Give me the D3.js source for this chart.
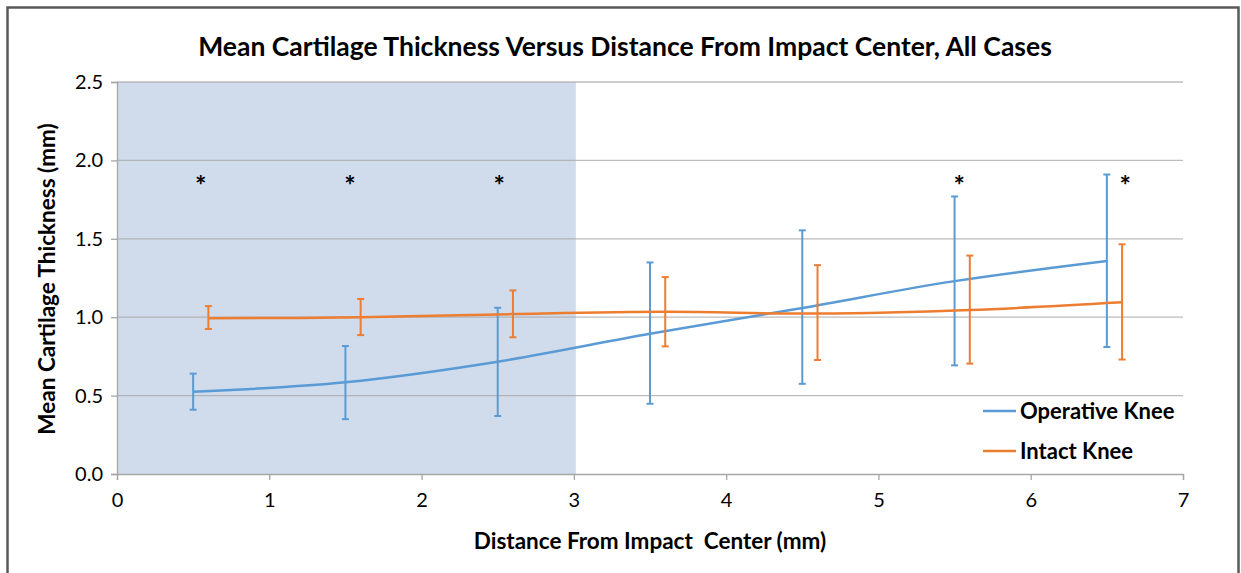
<!DOCTYPE html>
<html>
<head>
<meta charset="utf-8">
<script src="https://cdn.jsdelivr.net/npm/d3@7"></script>
<style>
  body { margin: 0; background: #fff; }
  text { font-family: Lato, "Open Sans", sans-serif; fill: #000; }
</style>
</head>
<body>
<div id="chart"></div>
<script>
// data
var opX = [0.5, 1.5, 2.5, 3.5, 4.5, 5.5, 6.5];
var opMean = [0.525, 0.585, 0.716, 0.894, 1.059, 1.23, 1.359];
var opHigh = [0.64, 0.816, 1.06, 1.349, 1.554, 1.77, 1.91];
var opLow = [0.41, 0.35, 0.37, 0.448, 0.575, 0.693, 0.81];

var inX = [0.6, 1.6, 2.6, 3.6, 4.6, 5.6, 6.6];
var inMean = [0.993, 0.999, 1.02, 1.034, 1.023, 1.046, 1.095];
var inHigh = [1.071, 1.116, 1.171, 1.256, 1.332, 1.393, 1.465];
var inLow = [0.925, 0.886, 0.872, 0.814, 0.727, 0.704, 0.73];

var starX = [0.55, 1.53, 2.51, 5.53, 6.62];
var starY = 1.88;
var shadeRange = [0, 3];

var xTicks = [0, 1, 2, 3, 4, 5, 6, 7];
var yTicks = [0, 0.5, 1, 1.5, 2, 2.5];

var blue = "#5B9BD5", orange = "#ED7D31";

var W = 1241, H = 573;
var margin = {top: 82, right: 58, bottom: 99, left: 117};
var width = W - margin.left - margin.right;
var height = H - margin.top - margin.bottom;

var svg = d3.select("#chart").append("svg")
    .attr("width", W)
    .attr("height", H);

// outer frame
svg.append("rect")
  .attr("x", 7.5).attr("y", 7.5)
  .attr("width", 1231).attr("height", 580)
  .attr("fill", "none")
  .attr("stroke", "#595959")
  .attr("stroke-width", 2.5);

var x = d3.scaleLinear().domain([0, 7]).range([0, width]);
var y = d3.scaleLinear().domain([0, 2.5]).range([height, 0]);

var g = svg.append("g")
    .attr("transform", "translate(" + margin.left + "," + margin.top + ")");

// shaded band
g.append("rect")
  .attr("x", x(shadeRange[0]))
  .attr("y", y(2.5))
  .attr("width", x(shadeRange[1]) - x(shadeRange[0]) + 2)
  .attr("height", y(0) - y(2.5))
  .attr("fill", "#D0DCEB");

// gridlines
g.selectAll("line.grid")
  .data(yTicks.filter(function(d) { return d > 0; }))
  .enter().append("line")
  .attr("class", "grid")
  .attr("x1", 0).attr("x2", width)
  .attr("y1", function(d) { return y(d); })
  .attr("y2", function(d) { return y(d); })
  .attr("stroke", "#A6A6A6")
  .attr("stroke-opacity", 0.75)
  .attr("stroke-width", 1.3);

// axes
var xAxis = g.append("g")
  .attr("transform", "translate(0," + height + ")")
  .call(d3.axisBottom(x).tickValues(xTicks).tickFormat(d3.format("d")).tickSize(6).tickPadding(13));
var yAxis = g.append("g")
  .call(d3.axisLeft(y).tickValues(yTicks).tickFormat(d3.format(".1f")).tickSize(6).tickPadding(8));

[xAxis, yAxis].forEach(function(a) {
  a.select(".domain").attr("stroke", "#A6A6A6").attr("stroke-width", 1.3);
  a.selectAll(".tick line").attr("stroke", "#A6A6A6").attr("stroke-width", 1.3);
  a.selectAll(".tick text")
    .attr("font-size", 20)
    .attr("font-family", "Lato, sans-serif")
    .attr("fill", "#000");
});

// error bars and lines
function series(xs, mean, hi, lo, color) {
  var pts = xs.map(function(d, i) { return {x: d, m: mean[i], h: hi[i], l: lo[i]}; });
  var bars = g.append("g").selectAll("g")
    .data(pts).enter().append("g")
    .attr("stroke", color)
    .attr("stroke-width", 2);
  bars.append("line")
    .attr("x1", function(d) { return x(d.x); })
    .attr("x2", function(d) { return x(d.x); })
    .attr("y1", function(d) { return y(d.h); })
    .attr("y2", function(d) { return y(d.l); });
  bars.append("line")
    .attr("x1", function(d) { return x(d.x) - 3.5; })
    .attr("x2", function(d) { return x(d.x) + 3.5; })
    .attr("y1", function(d) { return y(d.h); })
    .attr("y2", function(d) { return y(d.h); });
  bars.append("line")
    .attr("x1", function(d) { return x(d.x) - 3.5; })
    .attr("x2", function(d) { return x(d.x) + 3.5; })
    .attr("y1", function(d) { return y(d.l); })
    .attr("y2", function(d) { return y(d.l); });

  var line = d3.line()
    .x(function(d) { return x(d.x); })
    .y(function(d) { return y(d.m); })
    .curve(d3.curveCatmullRom.alpha(0));
  g.append("path")
    .datum(pts)
    .attr("d", line)
    .attr("fill", "none")
    .attr("stroke", color)
    .attr("stroke-width", 2.5);
}
series(opX, opMean, opHigh, opLow, blue);
series(inX, inMean, inHigh, inLow, orange);

// significance markers
g.selectAll("text.star")
  .data(starX)
  .enter().append("text")
  .attr("class", "star")
  .attr("x", function(d) { return x(d); })
  .attr("y", y(starY) + 16)
  .attr("text-anchor", "middle")
  .attr("font-size", 27)
  .attr("font-weight", "bold")
  .text("*");

// legend
var legendItems = [{name: "Operative Knee", color: blue}, {name: "Intact Knee", color: orange}];
var legend = svg.append("g").selectAll("g")
  .data(legendItems).enter().append("g")
  .attr("transform", function(d, i) { return "translate(983," + (411 + i * 40) + ")"; });
legend.append("line")
  .attr("x1", 0).attr("x2", 33)
  .attr("stroke", function(d) { return d.color; })
  .attr("stroke-width", 2.5);
legend.append("text")
  .attr("x", 37).attr("y", 8)
  .attr("font-size", 22)
  .attr("font-weight", "bold")
  .text(function(d) { return d.name; });

// titles
svg.append("text")
  .attr("x", 625).attr("y", 56)
  .attr("text-anchor", "middle")
  .attr("font-size", 26.5)
  .attr("font-weight", "bold")
  .text("Mean Cartilage Thickness Versus Distance From Impact Center, All Cases");

svg.append("text")
  .attr("x", 650).attr("y", 549)
  .attr("text-anchor", "middle")
  .attr("font-size", 22.5)
  .attr("font-weight", "bold")
  .style("white-space", "pre")
  .text("Distance From Impact  Center (mm)");

svg.append("text")
  .attr("transform", "translate(55,279) rotate(-90)")
  .attr("text-anchor", "middle")
  .attr("font-size", 22.5)
  .attr("font-weight", "bold")
  .text("Mean Cartilage Thickness (mm)");
</script>
</body>
</html>
